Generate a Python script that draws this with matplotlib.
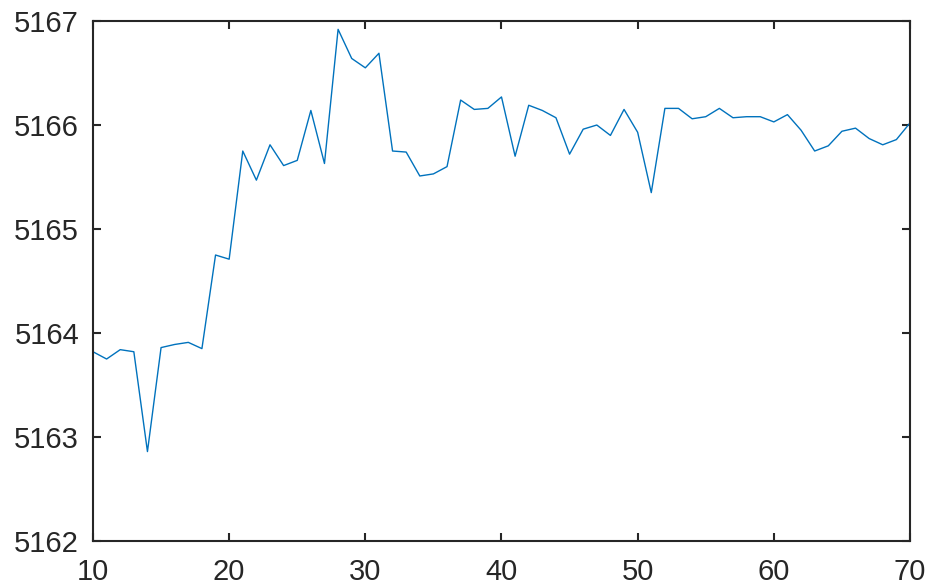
import numpy as np
import matplotlib
matplotlib.use("Agg")
import matplotlib.pyplot as plt

x = list(range(10, 71))
y = [5163.82, 5163.75, 5163.84, 5163.82, 5162.86, 5163.86, 5163.89, 5163.91, 5163.85, 5164.75,
     5164.71, 5165.75, 5165.47, 5165.81, 5165.61, 5165.66, 5166.14, 5165.63, 5166.92, 5166.64,
     5166.55, 5166.69, 5165.75, 5165.74, 5165.51, 5165.53, 5165.60, 5166.24, 5166.15, 5166.16,
     5166.27, 5165.70, 5166.19, 5166.14, 5166.07, 5165.72, 5165.96, 5166.00, 5165.90, 5166.15,
     5165.93, 5165.35, 5166.16, 5166.16, 5166.06, 5166.08, 5166.16, 5166.07, 5166.08, 5166.08,
     5166.03, 5166.10, 5165.95, 5165.75, 5165.80, 5165.94, 5165.97, 5165.87, 5165.81, 5165.86,
     5166.02]

xticks = [10, 20, 30, 40, 50, 60, 70]
yticks = [5162, 5163, 5164, 5165, 5166, 5167]

plt.rcParams['font.family'] = ['Liberation Sans', 'DejaVu Sans']

fig = plt.figure(figsize=(9.28, 5.84), dpi=100)
ax = fig.add_axes([0.1002, 0.0736, 0.8804, 0.8904])

ax.plot(x, y, color='#0072BD', linewidth=1.0)

ax.set_xlim(10, 70)
ax.set_ylim(5162, 5167)
ax.set_xticks(xticks)
ax.set_yticks(yticks)
ax.set_xticklabels([str(v) for v in xticks])
ax.set_yticklabels([str(v) for v in yticks])

edge = '#262626'
for s in ax.spines.values():
    s.set_color(edge)
    s.set_linewidth(1.5)
ax.tick_params(direction='in', length=6, width=1.5, color=edge,
               labelcolor=edge, labelsize=21, top=True, right=True)
ax.tick_params(axis='y', pad=10)
ax.tick_params(axis='x', pad=12)

fig.savefig('out.png', dpi=100)
